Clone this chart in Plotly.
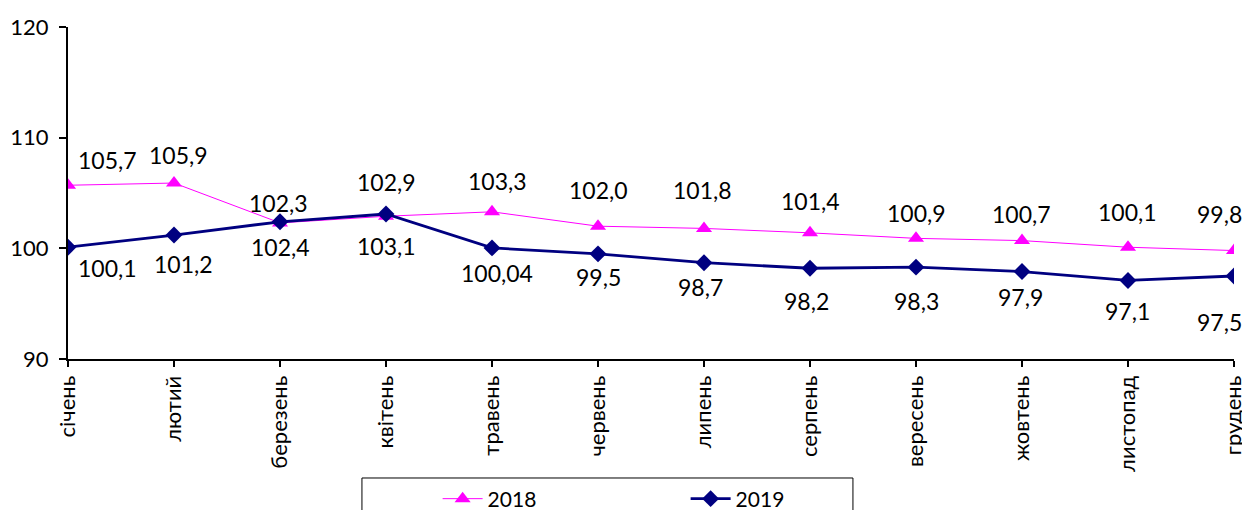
import plotly.graph_objects as go

months = ["січень", "лютий", "березень", "квітень", "травень", "червень",
          "липень", "серпень", "вересень", "жовтень", "листопад", "грудень"]
v2018 = [105.7, 105.9, 102.3, 102.9, 103.3, 102.0, 101.8, 101.4, 100.9, 100.7, 100.1, 99.8]
v2019 = [100.1, 101.2, 102.4, 103.1, 100.04, 99.5, 98.7, 98.2, 98.3, 97.9, 97.1, 97.5]
labels2018 = ["105,7", "105,9", "102,3", "102,9", "103,3", "102,0", "101,8", "101,4", "100,9", "100,7", "100,1", "99,8"]
labels2019 = ["100,1", "101,2", "102,4", "103,1", "100,04", "99,5", "98,7", "98,2", "98,3", "97,9", "97,1", "97,5"]
yticks = [90, 100, 110, 120]

# label offsets (pixels) relative to points
off2018 = [(39, 25), (4, 28), (-2, 20), (0, 34), (5, 31), (0, 36), (-2, 38), (0, 32), (0, 25), (-1, 27), (-1, 35), (-15, 37)]
off2019 = [(39, -21), (9, -29), (0, -25), (0, -32), (5, -25), (0, -23), (-4, -24), (-4, -33), (0, -34), (-2, -25), (-1, -31), (-15, -46)]

FONT = "Lato"
MAGENTA = "#FF00FF"
NAVY = "#000080"

xs = list(range(len(months)))

fig = go.Figure()
fig.add_trace(go.Scatter(
    x=xs, y=v2018, name="2018", mode="lines+markers",
    line=dict(color=MAGENTA, width=1),
    marker=dict(symbol="triangle-up", size=14, color=MAGENTA),
    hoverinfo="skip"))
fig.add_trace(go.Scatter(
    x=xs, y=v2019, name="2019", mode="lines+markers",
    line=dict(color=NAVY, width=2.8),
    marker=dict(symbol="diamond", size=13, color=NAVY),
    hoverinfo="skip"))

annotations = []
for i in xs:
    dx, dy = off2018[i]
    annotations.append(dict(x=i, y=v2018[i], text=labels2018[i], showarrow=False,
                            xshift=dx, yshift=dy, font=dict(family=FONT, size=23, color="black")))
    dx, dy = off2019[i]
    annotations.append(dict(x=i, y=v2019[i], text=labels2019[i], showarrow=False,
                            xshift=dx, yshift=dy, font=dict(family=FONT, size=23, color="black")))

fig.update_layout(
    width=1242, height=502,
    margin=dict(l=60, r=16, t=19, b=151, autoexpand=False),
    paper_bgcolor="white", plot_bgcolor="white",
    font=dict(family=FONT, size=21, color="black"),
    showlegend=True,
    legend=dict(orientation="h", x=0.317, y=-0.36, xanchor="left", yanchor="top",
                entrywidth=193, entrywidthmode="pixels",
                font=dict(family=FONT, size=21, color="black"),
                bgcolor="rgba(0,0,0,0)", itemwidth=40),
    annotations=annotations,
    shapes=[dict(type="rect", xref="paper", yref="paper", x0=0.2521, x1=0.6732,
                 y0=-0.6, y1=-0.3584, line=dict(color="black", width=1))],
    xaxis=dict(range=[0, 11], tickmode="array", tickvals=xs, ticktext=months,
               tickangle=-90, ticks="outside", ticklen=6, tickwidth=2, tickcolor="black",
               showline=True, linecolor="black", linewidth=2, showgrid=False, zeroline=False,
               tickfont=dict(family=FONT, size=22, color="black")),
    yaxis=dict(range=[90, 120], tickmode="array", tickvals=yticks,
               ticks="outside", ticklen=7, tickwidth=2, tickcolor="black",
               ticklabelstandoff=6,
               showline=True, linecolor="black", linewidth=2, showgrid=False, zeroline=False,
               tickfont=dict(family=FONT, size=22, color="black")),
)

fig.write_html("out.html")
